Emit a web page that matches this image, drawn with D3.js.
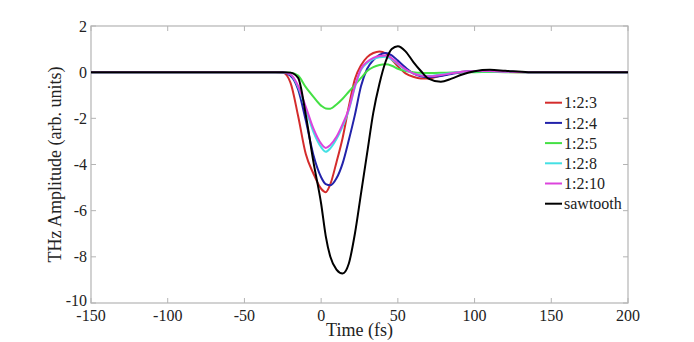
<!DOCTYPE html>
<html>
<head>
<meta charset="utf-8">
<script src="https://cdn.jsdelivr.net/npm/d3@7"></script>
<style>
  html, body { margin: 0; padding: 0; background: #fff; }
  svg { display: block; }
</style>
</head>
<body>
<svg id="chart" width="694" height="342"></svg>
<script>
// ---- data ----
const times = [-150, -30, -25, -20, -15, -10, -5, 0, 3, 6, 10, 14, 18, 22, 26, 30, 34, 38, 42, 46, 50, 55, 60, 65, 70, 78, 85, 92, 100, 110, 120, 135, 200];
const r123 = [0, 0, -0.02, -0.45, -1.9, -3.55, -4.4, -5.05, -5.2, -4.85, -3.9, -2.85, -1.5, -0.3, 0.3, 0.65, 0.83, 0.9, 0.82, 0.55, 0.25, -0.05, -0.2, -0.27, -0.27, -0.15, -0.05, 0.02, 0.05, 0.03, 0.01, 0, 0];
const r124 = [0, 0, -0.01, -0.15, -0.75, -2.1, -3.6, -4.55, -4.85, -4.9, -4.6, -3.95, -2.95, -1.85, -0.6, 0.15, 0.52, 0.75, 0.83, 0.73, 0.5, 0.2, -0.05, -0.18, -0.22, -0.17, -0.08, 0, 0.05, 0.05, 0.02, 0, 0];
const r125 = [0, 0, 0, -0.02, -0.15, -0.65, -1.07, -1.45, -1.57, -1.58, -1.4, -1.15, -0.85, -0.55, -0.25, 0.05, 0.22, 0.31, 0.34, 0.28, 0.15, 0.05, 0, -0.03, -0.04, -0.03, -0.01, 0, 0, 0.01, 0, 0, 0];
const r128 = [0, 0, 0, -0.1, -0.65, -1.6, -2.6, -3.25, -3.45, -3.3, -2.9, -2.35, -1.65, -0.65, 0.1, 0.4, 0.57, 0.65, 0.67, 0.55, 0.35, 0.1, -0.05, -0.13, -0.16, -0.1, -0.04, 0.02, 0.04, 0.04, 0.02, 0, 0];
const r1210 = [0, 0, 0, -0.1, -0.6, -1.5, -2.45, -3.1, -3.28, -3.15, -2.8, -2.25, -1.6, -0.6, 0.15, 0.45, 0.62, 0.7, 0.72, 0.6, 0.38, 0.12, -0.05, -0.15, -0.18, -0.12, -0.05, 0.02, 0.05, 0.05, 0.02, 0, 0];
const sawtooth = [0, 0, 0, -0.02, -0.25, -1.85, -3.9, -5.7, -7.1, -8.0, -8.55, -8.72, -8.3, -7.0, -5.25, -3.5, -1.75, -0.5, 0.45, 1.0, 1.12, 0.9, 0.45, 0.05, -0.28, -0.42, -0.28, -0.1, 0.04, 0.1, 0.06, 0, 0];
const seriesNames = ["1:2:3", "1:2:4", "1:2:5", "1:2:8", "1:2:10", "sawtooth"];
const seriesValues = [r123, r124, r125, r128, r1210, sawtooth];
const seriesColors = ["#d42c2c", "#2222aa", "#44e044", "#44e0e4", "#dc44dc", "#000000"];
const xTicks = [-150, -100, -50, 0, 50, 100, 150, 200];
const yTicks = [-10, -8, -6, -4, -2, 0, 2];
const xLabel = "Time (fs)";
const yLabel = "THz Amplitude (arb. units)";

// ---- layout ----
const FONT = "'Liberation Serif', 'Times New Roman', serif";
const svg = d3.select("#chart");
const L = 91, R = 628, T = 26, B = 303;
const x = d3.scaleLinear().domain([-150, 200]).range([L, R]);
const y = d3.scaleLinear().domain([-10, 2]).range([B, T]);
const axisColor = "#b4b4b4";
const tickLen = 5;

// box
svg.append("rect").attr("x", L).attr("y", T).attr("width", R - L).attr("height", B - T)
  .attr("fill", "none").attr("stroke", axisColor).attr("stroke-width", 1.2);

// ticks (inside, all four sides)
const tg = svg.append("g").attr("stroke", axisColor).attr("stroke-width", 1);
xTicks.forEach(t => {
  tg.append("line").attr("x1", x(t)).attr("x2", x(t)).attr("y1", B).attr("y2", B - tickLen);
  tg.append("line").attr("x1", x(t)).attr("x2", x(t)).attr("y1", T).attr("y2", T + tickLen);
});
yTicks.forEach(t => {
  tg.append("line").attr("x1", L).attr("x2", L + tickLen).attr("y1", y(t)).attr("y2", y(t));
  tg.append("line").attr("x1", R).attr("x2", R - tickLen).attr("y1", y(t)).attr("y2", y(t));
});

// tick labels
svg.append("g").selectAll("text").data(xTicks).join("text")
  .attr("x", d => x(d)).attr("y", 321).attr("text-anchor", "middle")
  .attr("font-family", FONT).attr("fill", "#222")
  .attr("font-size", 16).text(d => d);
svg.append("g").selectAll("text").data(yTicks).join("text")
  .attr("x", 87).attr("y", d => y(d)).attr("dy", d => d === -10 ? "0.2em" : "0.35em")
  .attr("font-family", FONT).attr("fill", "#222")
  .attr("text-anchor", "end").attr("font-size", 16).text(d => d);

// axis labels
svg.append("text").attr("x", (L + R) / 2).attr("y", 336).attr("text-anchor", "middle")
  .attr("font-family", FONT).attr("fill", "#222")
  .attr("font-size", 18).text(xLabel);
svg.append("text").attr("transform", `translate(61,${(T + B) / 2}) rotate(-90)`)
  .attr("font-family", FONT).attr("fill", "#222")
  .attr("text-anchor", "middle").attr("font-size", 18).text(yLabel);

// lines
const line = d3.line().x(d => x(d[0])).y(d => y(d[1])).curve(d3.curveMonotoneX);
seriesValues.forEach((vals, i) => {
  svg.append("path").datum(times.map((t, j) => [t, vals[j]]))
    .attr("fill", "none").attr("stroke", seriesColors[i]).attr("stroke-width", 2)
    .attr("stroke-linejoin", "round").attr("d", line);
});

// legend
const lg = svg.append("g");
seriesNames.forEach((n, i) => {
  const yy = 102.7 + 20.2 * i;
  lg.append("line").attr("x1", 545).attr("x2", 562).attr("y1", yy).attr("y2", yy)
    .attr("stroke", seriesColors[i]).attr("stroke-width", 2);
  lg.append("text").attr("x", 564).attr("y", yy).attr("dy", "0.35em")
    .attr("font-family", FONT).attr("fill", "#222")
    .attr("font-size", 16).text(n);
});
</script>
</body>
</html>
